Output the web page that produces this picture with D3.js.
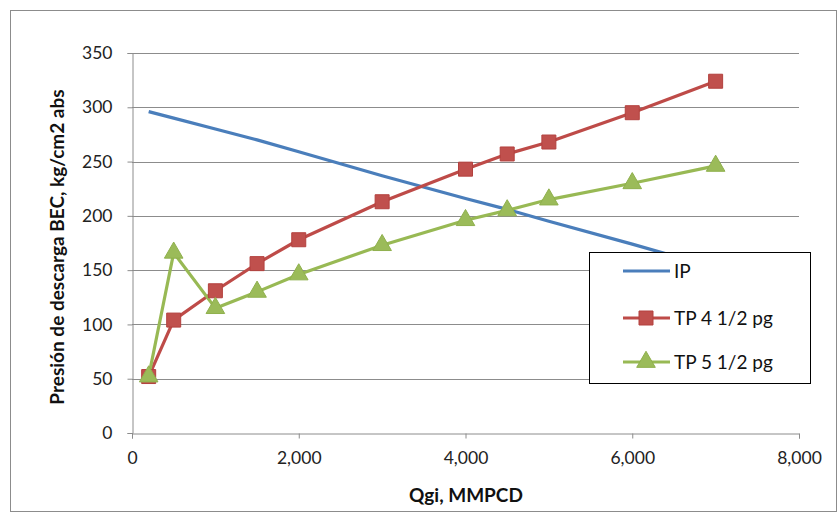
<!DOCTYPE html>
<html><head><meta charset="utf-8">
<script src="https://cdn.jsdelivr.net/npm/d3@7"></script>
<style>body{margin:0;background:#fff;}svg{display:block;font-family:Lato,"Open Sans",sans-serif;}</style>
</head><body>
<script>
const qgi = [200, 500, 1000, 1500, 2000, 3000, 4000, 4500, 5000, 6000, 7000];
const ip = [296, 290, 280, 270, 259, 237, 216, 206, 195, 174, 152];
const tp45 = [52, 104, 131, 156, 178, 213, 243, 257, 268, 295, 324];
const tp55 = [52, 166, 115, 130, 146, 173, 196, 205, 215, 230, 246];
const seriesNames = ["IP", "TP 4 1/2 pg", "TP 5 1/2 pg"];
const xTicks = [0, 2000, 4000, 6000, 8000];
const yTicks = [0, 50, 100, 150, 200, 250, 300, 350];
const colors = ["#4a7ebb", "#be4b48", "#98b954"];

const W = 838, H = 515;
const svg = d3.select("body").append("svg").attr("width", W).attr("height", H);
svg.append("rect").attr("x", 10.5).attr("y", 10.5).attr("width", 826).attr("height", 501)
  .attr("fill", "#fff").attr("stroke", "#8c8c8c");

const x = d3.scaleLinear().domain([0, 8000]).range([132, 799]);
const y = d3.scaleLinear().domain([0, 350]).range([433, 53]);

// gridlines
svg.append("g").selectAll("line").data(yTicks.filter(d => d > 0)).join("line")
  .attr("x1", x(0)).attr("x2", x(8000)).attr("y1", d => Math.round(y(d)) + 0.5).attr("y2", d => Math.round(y(d)) + 0.5)
  .attr("stroke", "#8c8c8c").attr("stroke-width", 1);

const fmt = d3.format(",");
const yAxis = svg.append("g").attr("transform", `translate(${x(0) + 0.5},0)`)
  .call(d3.axisLeft(y).tickValues(yTicks).tickSize(5).tickPadding(15).tickFormat(d3.format("d")));
const xAxis = svg.append("g").attr("transform", `translate(0,${y(0) + 0.5})`)
  .call(d3.axisBottom(x).tickValues(xTicks).tickSize(5).tickPadding(13).tickFormat(fmt));
[yAxis, xAxis].forEach(a => {
  a.selectAll("path,line").attr("stroke", "#8c8c8c");
  a.selectAll("text").attr("font-size", 17.5).attr("fill", "#222").attr("font-family", "Lato, 'Open Sans', sans-serif");
});

// titles
svg.append("text").attr("transform", `translate(64,247) rotate(-90)`).attr("text-anchor", "middle")
  .attr("font-size", 19).attr("font-weight", "bold").attr("fill", "#111")
  .text("Presión de descarga BEC, kg/cm2 abs");
svg.append("text").attr("x", 466).attr("y", 502).attr("text-anchor", "middle")
  .attr("font-size", 19).attr("font-weight", "bold").attr("fill", "#111").text("Qgi, MMPCD");

const line = d3.line().x(d => x(d[0])).y(d => y(d[1]));
const data = [ip, tp45, tp55].map(s => qgi.map((q, i) => [q, s[i]]));

data.forEach((d, i) => {
  svg.append("path").datum(d).attr("d", line).attr("fill", "none")
    .attr("stroke", colors[i]).attr("stroke-width", 3.2).attr("stroke-linejoin", "round");
});
const sq = d3.symbol().type(d3.symbolSquare).size(196);
const tri = d3.symbol().type(d3.symbolTriangle).size(150);
svg.append("g").selectAll("path").data(data[1]).join("path")
  .attr("d", sq).attr("transform", d => `translate(${x(d[0])},${y(d[1])})`)
  .attr("fill", "#c0504d").attr("stroke", "#b3413e").attr("stroke-width", 1);
svg.append("g").selectAll("path").data(data[2]).join("path")
  .attr("d", tri).attr("transform", d => `translate(${x(d[0])},${y(d[1])})`)
  .attr("fill", "#9bbb59").attr("stroke", "#8fb04d").attr("stroke-width", 1);

// legend
const lg = svg.append("g");
lg.append("rect").attr("x", 589.5).attr("y", 252.5).attr("width", 221).attr("height", 131)
  .attr("fill", "#fff").attr("stroke", "#000").attr("stroke-width", 1);
const rows = [271, 318, 362];
seriesNames.forEach((n, i) => {
  lg.append("line").attr("x1", 623).attr("x2", 670).attr("y1", rows[i]).attr("y2", rows[i])
    .attr("stroke", colors[i]).attr("stroke-width", 3.2);
  if (i === 1) lg.append("path").attr("d", sq).attr("transform", `translate(646,${rows[i]})`)
    .attr("fill", "#c0504d").attr("stroke", "#b3413e");
  if (i === 2) lg.append("path").attr("d", tri).attr("transform", `translate(646,${rows[i]})`)
    .attr("fill", "#9bbb59").attr("stroke", "#8fb04d");
  lg.append("text").attr("x", 674).attr("y", rows[i] + 7).attr("font-size", 19).attr("fill", "#111").text(n);
});
</script>
</body></html>
